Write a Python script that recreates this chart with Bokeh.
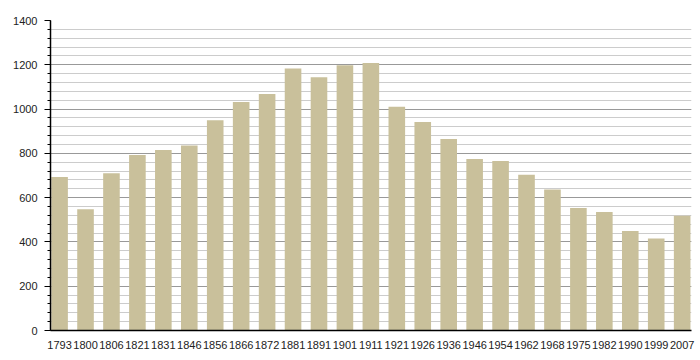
from bokeh.plotting import figure
from bokeh.models import Range1d, FixedTicker
from bokeh.embed import file_html
from bokeh.resources import INLINE

years = ["1793", "1800", "1806", "1821", "1831", "1846", "1856", "1866", "1872",
         "1881", "1891", "1901", "1911", "1921", "1926", "1936", "1946", "1954",
         "1962", "1968", "1975", "1982", "1990", "1999", "2007"]
population = [693, 548, 710, 793, 815, 835, 950, 1032, 1068,
              1183, 1144, 1198, 1208, 1010, 942, 865, 775, 765,
              703, 637, 553, 535, 449, 416, 518]
y_ticks = [0, 200, 400, 600, 800, 1000, 1200, 1400]
y_minor = [v for v in range(0, 1401, 40)]

xs = list(range(len(years)))

p = figure(width=698, height=358, output_backend="svg", toolbar_location=None,
           x_range=Range1d(-0.35, 24.36), y_range=Range1d(0, 1400),
           min_border_left=50, min_border_right=7, min_border_top=20,
           min_border_bottom=28)
p.outline_line_color = None
p.background_fill_color = "white"
p.border_fill_color = "white"

p.vbar(x=xs, top=population, width=0.64, bottom=0,
       fill_color="#c9c09b", line_color=None)

# x axis
p.xaxis.ticker = FixedTicker(ticks=xs)
p.xaxis.major_label_overrides = {i: y for i, y in enumerate(years)}
p.xaxis.major_tick_line_color = None
p.xaxis.minor_tick_line_color = None
p.xaxis.axis_line_color = "black"
p.xaxis.axis_line_width = 1.5
p.xaxis.major_label_standoff = 4
p.xaxis.major_label_text_font = "Liberation Sans"
p.xaxis.major_label_text_font_size = "11px"
p.xaxis.major_label_text_color = "#222222"
p.xgrid.grid_line_color = None

# y axis
p.yaxis.ticker = FixedTicker(ticks=y_ticks, minor_ticks=y_minor)
p.yaxis.axis_line_color = "black"
p.yaxis.axis_line_width = 1.5
p.yaxis.major_tick_line_color = "black"
p.yaxis.major_tick_out = 6
p.yaxis.major_tick_in = 0
p.yaxis.minor_tick_line_color = "black"
p.yaxis.minor_tick_out = 3
p.yaxis.minor_tick_in = 0
p.yaxis.major_label_standoff = 7
p.yaxis.major_label_text_font = "Liberation Sans"
p.yaxis.major_label_text_font_size = "11px"
p.yaxis.major_label_text_color = "#222222"

p.ygrid.grid_line_color = "#999999"
p.ygrid.grid_line_width = 1
p.ygrid.minor_grid_line_color = "#cccccc"
p.ygrid.minor_grid_line_width = 1

open("out.html", "w").write(file_html(p, INLINE))
